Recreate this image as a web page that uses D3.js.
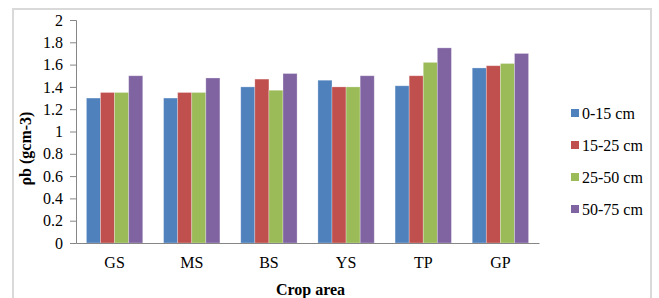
<!DOCTYPE html>
<html>
<head>
<meta charset="utf-8">
<script src="https://cdn.jsdelivr.net/npm/d3@7"></script>
<style>
  body { margin: 0; background: #fff; }
  svg text { font-family: "Liberation Serif", "Times New Roman", serif !important; fill: #000; }
</style>
</head>
<body>
<div id="chart-container"></div>
<script>
// bulk density by crop area and soil depth
const svgWidth = 659;
const svgHeight = 298;
const margin = { top: 20, right: 120, bottom: 55, left: 76 };
const width = 539 - margin.left;
const height = 243 - margin.top;

const crops = ["GS", "MS", "BS", "YS", "TP", "GP"];
const depths = ["0-15 cm", "15-25 cm", "25-50 cm", "50-75 cm"];
const depth0_15 = [1.30, 1.30, 1.40, 1.46, 1.41, 1.57];
const depth15_25 = [1.35, 1.35, 1.47, 1.40, 1.50, 1.59];
const depth25_50 = [1.35, 1.35, 1.37, 1.40, 1.62, 1.61];
const depth50_75 = [1.50, 1.48, 1.52, 1.50, 1.75, 1.70];
const yTicks = [0, 0.2, 0.4, 0.6, 0.8, 1, 1.2, 1.4, 1.6, 1.8, 2];

const seriesList = [depth0_15, depth15_25, depth25_50, depth50_75];
const colors = ["#4F81BD", "#C0504D", "#9BBB59", "#8064A2"];
const fontSize = "16px";

const root = d3.select("#chart-container")
    .append("svg")
    .attr("width", svgWidth)
    .attr("height", svgHeight);

// outer chart frame
root.append("rect")
    .attr("x", 13).attr("y", 9)
    .attr("width", 638).attr("height", 300)
    .attr("fill", "none")
    .attr("stroke", "#d9d9d9")
    .attr("stroke-width", 2);

const svg = root.append("g")
    .attr("transform", `translate(${margin.left},${margin.top})`);

const x = d3.scaleBand()
    .domain(crops)
    .range([0, width])
    .paddingInner(0.27)
    .paddingOuter(0.135);

const xInner = d3.scaleBand()
    .domain(depths)
    .range([0, x.bandwidth()]);

const y = d3.scaleLinear()
    .domain([0, 2])
    .range([height, 0]);

const colorScale = d3.scaleOrdinal().domain(depths).range(colors);

// flatten into one row per bar
const rows = [];
crops.forEach((c, i) => {
    depths.forEach((dep, j) => {
        rows.push({ crop: c, depth: dep, value: seriesList[j][i] });
    });
});

svg.selectAll(".bar")
    .data(rows)
    .enter()
    .append("rect")
    .attr("class", "bar")
    .attr("x", d => x(d.crop) + xInner(d.depth))
    .attr("y", d => y(d.value))
    .attr("width", xInner.bandwidth())
    .attr("height", d => height - y(d.value))
    .attr("fill", d => colorScale(d.depth))
    .attr("stroke", "rgba(255,255,255,0.35)")
    .attr("stroke-width", 0.8);

// y axis
const yAxis = svg.append("g")
    .attr("font-family", null)
    .call(d3.axisLeft(y).tickValues(yTicks).tickSize(6).tickPadding(7)
        .tickFormat(d => d3.format("")(+d.toFixed(1))));
yAxis.attr("font-family", null).attr("font-size", null);
yAxis.selectAll("text").style("font-size", fontSize);
yAxis.select(".domain").attr("stroke", "#868686");
yAxis.selectAll(".tick line").attr("stroke", "#868686");

// x axis
const xAxis = svg.append("g")
    .attr("transform", `translate(0, ${height})`)
    .call(d3.axisBottom(x).tickSize(0).tickPadding(14));
xAxis.attr("font-family", null).attr("font-size", null);
xAxis.selectAll("text").style("font-size", fontSize);
xAxis.select(".domain").attr("stroke", "#868686");

// axis titles
svg.append("text")
    .text("Crop area")
    .attr("x", width / 2 + 3)
    .attr("y", height + 52)
    .attr("text-anchor", "middle")
    .style("font-size", fontSize)
    .style("font-weight", "bold");

svg.append("text")
    .text("ρb (gcm-3)")
    .attr("transform", `translate(${25 - margin.left}, ${height / 2 + 17}) rotate(-90)`)
    .attr("text-anchor", "middle")
    .attr("dy", "0.35em")
    .style("font-size", fontSize)
    .style("font-weight", "bold");

// legend
const legend = root.append("g")
    .attr("transform", "translate(571, 113)");

const items = legend.selectAll(".item")
    .data(depths)
    .enter()
    .append("g")
    .attr("transform", (d, i) => `translate(0, ${i * 32})`);

items.append("rect")
    .attr("x", 0).attr("y", -4)
    .attr("width", 8).attr("height", 8)
    .attr("fill", d => colorScale(d));

items.append("text")
    .text(d => d)
    .attr("x", 11)
    .attr("dy", "0.35em")
    .style("font-size", fontSize);
</script>
</body>
</html>
